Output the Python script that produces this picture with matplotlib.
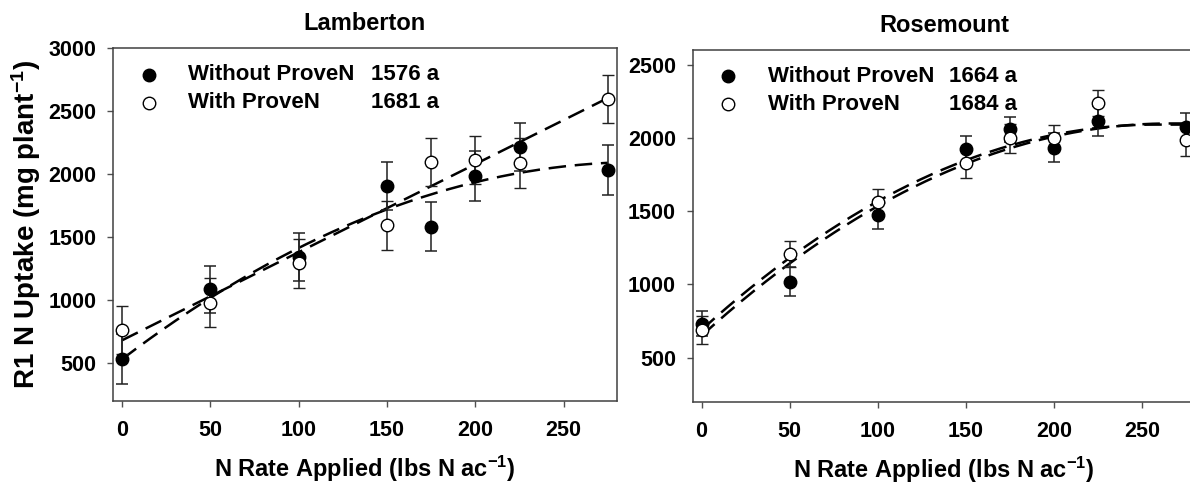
import numpy as np
import matplotlib
matplotlib.use('Agg')
import matplotlib.pyplot as plt

plt.rcParams['font.family'] = ['Liberation Sans', 'DejaVu Sans']
plt.rcParams['font.weight'] = 'bold'
plt.rcParams['mathtext.fontset'] = 'custom'
plt.rcParams['mathtext.rm'] = 'Liberation Sans:bold'
plt.rcParams['mathtext.it'] = 'Liberation Sans:bold'
plt.rcParams['mathtext.bf'] = 'Liberation Sans:bold'

# N rates (lbs N/ac)
n_rate = [0, 50, 100, 150, 175, 200, 225, 275]

# Lamberton
lam_without = [530, 1084, 1343, 1905, 1582, 1985, 2218, 2033]
lam_without_se = [200, 190, 190, 190, 195, 200, 190, 195]
lam_with = [760, 980, 1291, 1595, 2094, 2112, 2091, 2595]
lam_with_se = [190, 195, 195, 195, 190, 190, 200, 190]

# Rosemount
ros_without = [733, 1020, 1476, 1923, 2059, 1934, 2116, 2077]
ros_without_se = [85, 100, 100, 90, 86, 97, 102, 91]
ros_with = [687, 1209, 1560, 1828, 1998, 2002, 2240, 1984]
ros_with_se = [95, 88, 90, 98, 100, 86, 89, 106]

# fitted curves: intercept, linear, quadratic (plateau after the vertex)
lam_fit_without = [530, 10.65, -0.0181]
lam_fit_with = [680, 7.0, 0.0]
ros_fit_without = [650, 10.9, -0.0205]
ros_fit_with = [690, 10.9, -0.0212]

lam_means = ['1576 a', '1681 a']
ros_means = ['1664 a', '1684 a']
labels = ['Without ProveN', 'With ProveN']


def quad_plateau(x, coef):
    a, b, c = coef
    y = a + b * x + c * x ** 2
    if c < 0:
        x0 = -b / (2 * c)
        y = np.where(x > x0, a + b * x0 + c * x0 ** 2, y)
    return y


def panel(ax, title, ywo, ywo_se, yw, yw_se, fit_wo, fit_w, means, ylim, yticks):
    xs = np.linspace(0, 275, 300)
    dash = dict(color='black', lw=1.8, dashes=(7, 3.5), zorder=2)
    ax.plot(xs, quad_plateau(xs, fit_wo), **dash)
    ax.plot(xs, quad_plateau(xs, fit_w), **dash)
    eb = dict(fmt='o', ms=9, ecolor='#202020', elinewidth=1.1, capsize=4.5,
              capthick=1.1, zorder=3)
    ax.errorbar(n_rate, ywo, yerr=ywo_se, mfc='black', mec='black', **eb)
    ax.errorbar(n_rate, yw, yerr=yw_se, mfc='white', mec='black', mew=1.0, **eb)

    # legend drawn by hand to keep the two text columns
    ax.plot([0.071], [0.925], 'o', ms=9, mfc='black', mec='black',
            transform=ax.transAxes, clip_on=False)
    ax.plot([0.071], [0.846], 'o', ms=9, mfc='white', mec='black', mew=1.0,
            transform=ax.transAxes, clip_on=False)
    for yy, lab, m in zip([0.925, 0.846], labels, means):
        ax.text(0.149, yy, lab, transform=ax.transAxes, fontsize=16,
                fontweight='bold', va='center', ha='left')
        ax.text(0.511, yy, m, transform=ax.transAxes, fontsize=16,
                fontweight='bold', va='center', ha='left')

    ax.set_xlim(-5, 280)
    ax.set_ylim(*ylim)
    ax.set_xticks([0, 50, 100, 150, 200, 250])
    ax.set_yticks(yticks)
    ax.tick_params(direction='out', length=4, width=1, color='#505050',
                   labelsize=15.5, top=False, right=False)
    ax.tick_params(axis='x', pad=10)
    ax.tick_params(axis='y', pad=8)
    for s in ax.spines.values():
        s.set_color('#404040')
        s.set_linewidth(1.1)
    ax.set_title(title, fontsize=17, fontweight='bold', pad=13)
    ax.set_xlabel(r'N Rate Applied (lbs N ac$^{-1}$)', fontsize=17,
                  fontweight='bold', labelpad=9)


fig = plt.figure(figsize=(11.9, 4.88), dpi=100)
ax1 = fig.add_axes([0.0952, 0.1789, 0.4230, 0.7221])
ax2 = fig.add_axes([0.5821, 0.1768, 0.4223, 0.7207])

panel(ax1, 'Lamberton', lam_without, lam_without_se, lam_with, lam_with_se,
      lam_fit_without, lam_fit_with, lam_means, (200, 3000),
      [500, 1000, 1500, 2000, 2500, 3000])
panel(ax2, 'Rosemount', ros_without, ros_without_se, ros_with, ros_with_se,
      ros_fit_without, ros_fit_with, ros_means, (200, 2600),
      [500, 1000, 1500, 2000, 2500])
ax1.set_ylabel(r'R1 N Uptake (mg plant$^{-1}$)', fontsize=20,
               fontweight='bold', labelpad=4)

fig.savefig('out.png', dpi=100)
